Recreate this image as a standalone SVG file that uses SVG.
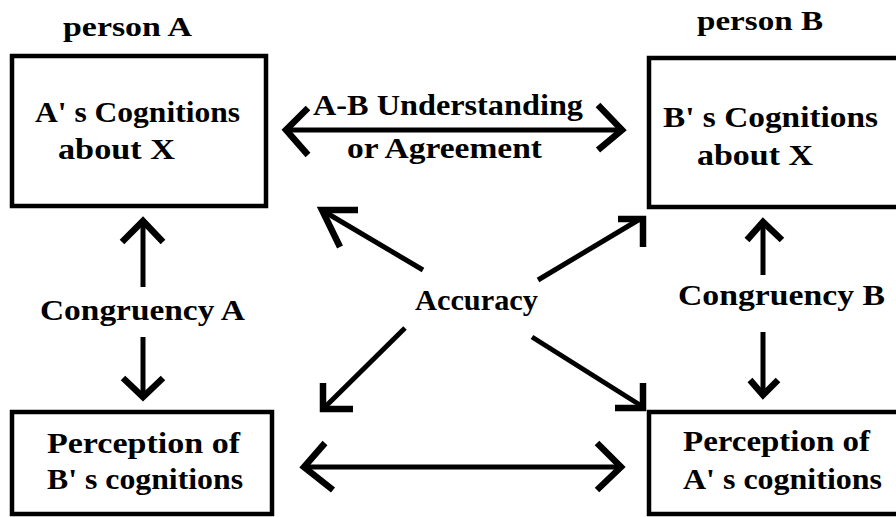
<svg xmlns="http://www.w3.org/2000/svg" width="896" height="517" viewBox="0 0 896 517">
<style>
text{font-family:"Liberation Serif","Times New Roman",serif;font-weight:bold;fill:#000;font-size:30px}
.box{fill:none;stroke:#000;stroke-width:4.5}
.ln{fill:none;stroke:#000;stroke-width:5;stroke-linecap:butt;stroke-linejoin:miter}
.hd{fill:none;stroke:#000;stroke-width:6.5;stroke-linecap:butt;stroke-linejoin:miter}
.sm{font-size:28px}
</style>
<rect width="896" height="517" fill="#fff"/>
<text class="sm" x="63" y="36" textLength="129" lengthAdjust="spacingAndGlyphs">person  A</text>
<text class="sm" x="697" y="30" textLength="126" lengthAdjust="spacingAndGlyphs">person  B</text>
<g id="nodeA">
<rect class="box" x="12" y="56" width="254" height="150"/>
<text x="35" y="122" textLength="205" lengthAdjust="spacingAndGlyphs">A' s Cognitions</text>
<text x="58" y="159" textLength="117" lengthAdjust="spacingAndGlyphs">about  X</text>
</g>
<g id="nodeB">
<rect class="box" x="649" y="58" width="260" height="149"/>
<text x="663" y="127" textLength="215" lengthAdjust="spacingAndGlyphs">B' s  Cognitions</text>
<text x="697" y="165" textLength="116" lengthAdjust="spacingAndGlyphs">about  X</text>
</g>
<g id="nodePA">
<rect class="box" x="12" y="412" width="260" height="102"/>
<text x="47" y="453" textLength="193" lengthAdjust="spacingAndGlyphs">Perception  of</text>
<text x="47" y="489" textLength="196" lengthAdjust="spacingAndGlyphs">B' s cognitions</text>
</g>
<g id="nodePB">
<rect class="box" x="649" y="412" width="260" height="102"/>
<text x="683" y="451" textLength="187" lengthAdjust="spacingAndGlyphs">Perception of</text>
<text x="683" y="489" textLength="199" lengthAdjust="spacingAndGlyphs">A' s cognitions</text>
</g>
<g id="connectors">
<line class="ln" x1="288" y1="130" x2="620" y2="130"/>
<polyline class="hd" points="308,108 286,130 308,155"/>
<polyline class="hd" points="598,105 622,130 598,150"/>
<polyline class="ln" points="143,287 143,223"/>
<polyline class="hd" points="122,242 143,221 163,242"/>
<polyline class="ln" points="143,337 143,394"/>
<polyline class="hd" points="123,378 143,397 163,378"/>
<polyline class="ln" points="763,275 763,225"/>
<polyline class="hd" points="747,240 763,222 782,240"/>
<polyline class="ln" points="763,332 763,392"/>
<polyline class="hd" points="750,380 763,395 778,380"/>
<line class="ln" x1="423" y1="270" x2="325" y2="212"/>
<polyline class="hd" points="358,210 322,210 340,247"/>
<line class="ln" x1="538" y1="280" x2="640" y2="219"/>
<polyline class="hd" points="618,219 643,219 643,247"/>
<line class="ln" x1="405" y1="328" x2="326" y2="406"/>
<polyline class="hd" points="323,383 323,409 353,409"/>
<line class="ln" x1="532" y1="337" x2="640" y2="405"/>
<polyline class="hd" points="643,383 643,408 615,408"/>
<line class="ln" x1="306" y1="467" x2="620" y2="467"/>
<polyline class="hd" points="325,443 304,467 333,490"/>
<polyline class="hd" points="597,443 621,467 597,490"/>
</g>
<text x="313" y="115" textLength="270" lengthAdjust="spacingAndGlyphs">A-B Understanding</text>
<text x="347" y="158" textLength="195" lengthAdjust="spacingAndGlyphs">or  Agreement</text>
<text x="415" y="310" textLength="123" lengthAdjust="spacingAndGlyphs">Accuracy</text>
<text x="40" y="320" textLength="205" lengthAdjust="spacingAndGlyphs">Congruency  A</text>
<text x="678" y="305" textLength="207" lengthAdjust="spacingAndGlyphs">Congruency  B</text>
</svg>
